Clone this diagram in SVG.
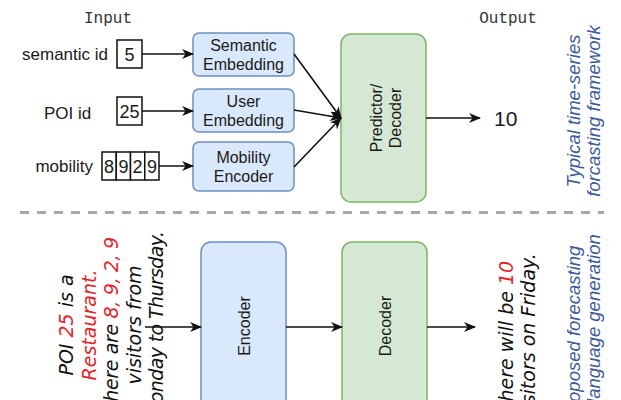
<svg xmlns="http://www.w3.org/2000/svg" width="621" height="400" viewBox="0 0 621 400">
<style>
.lbl{font-family:"Liberation Sans",Arial,sans-serif;fill:#1a1a1a}
.mono{font-family:"Liberation Mono","Courier New",monospace;font-size:16px;fill:#333;text-anchor:middle}
.blue{fill:#dae8fc;stroke:#6c8ebf;stroke-width:1.5}
.green{fill:#d5e8d4;stroke:#82b366;stroke-width:1.5}
.cell{fill:#fff;stroke:#111;stroke-width:1.5}
.conn{stroke:#111;stroke-width:1.6;fill:none;marker-end:url(#ah)}
.hand{font-family:"DejaVu Sans",sans-serif;font-style:italic;font-size:19px;fill:#111;text-anchor:middle}
.red{fill:#e3242b}
.cap{font-family:"Liberation Sans",Arial,sans-serif;font-style:italic;font-size:18.5px;fill:#3c5a9a;text-anchor:middle}
.mid{text-anchor:middle}
</style>
<defs>
<marker id="ah" markerUnits="userSpaceOnUse" markerWidth="12" markerHeight="10" viewBox="0 0 12 10" refX="11" refY="5" orient="auto">
<path d="M0,0 L12,5 L0,10 L3.5,5 Z" fill="#111"/>
</marker>
</defs>

<text class="mono" x="108" y="23">Input</text>
<text class="mono" x="508" y="23">Output</text>

<g id="in-semantic">
<text class="lbl" x="108" y="60" font-size="17" text-anchor="end">semantic id</text>
<rect class="cell" x="117" y="40" width="25" height="28"/>
<text class="lbl mid" x="129.5" y="60.5" font-size="18">5</text>
</g>
<g id="in-poi">
<text class="lbl" x="44" y="119" font-size="17">POI id</text>
<rect class="cell" x="117" y="97" width="25" height="28"/>
<text class="lbl mid" x="129.5" y="117.5" font-size="18">25</text>
</g>
<g id="in-mobility">
<text class="lbl" x="93" y="172" font-size="17" text-anchor="end">mobility</text>
<rect class="cell" x="102" y="152" width="14.25" height="28"/>
<rect class="cell" x="116.25" y="152" width="14.25" height="28"/>
<rect class="cell" x="130.5" y="152" width="14.25" height="28"/>
<rect class="cell" x="144.75" y="152" width="14.25" height="28"/>
<text class="lbl mid" x="109.1" y="172.5" font-size="18">8</text>
<text class="lbl mid" x="123.4" y="172.5" font-size="18">9</text>
<text class="lbl mid" x="137.6" y="172.5" font-size="18">2</text>
<text class="lbl mid" x="151.9" y="172.5" font-size="18">9</text>
</g>

<g id="semantic-embedding">
<rect class="blue" x="193" y="33" width="101" height="43" rx="6"/>
<text class="lbl mid" x="243.5" y="51" font-size="16">Semantic</text>
<text class="lbl mid" x="243.5" y="70" font-size="16">Embedding</text>
</g>
<g id="user-embedding">
<rect class="blue" x="193" y="89" width="101" height="43" rx="6"/>
<text class="lbl mid" x="243.5" y="107" font-size="16">User</text>
<text class="lbl mid" x="243.5" y="126" font-size="16">Embedding</text>
</g>
<g id="mobility-encoder">
<rect class="blue" x="193" y="142" width="101" height="49" rx="6"/>
<text class="lbl mid" x="243.5" y="163" font-size="16">Mobility</text>
<text class="lbl mid" x="243.5" y="182" font-size="16">Encoder</text>
</g>
<g id="predictor-decoder">
<rect class="green" x="341" y="34" width="85" height="168" rx="10"/>
<g transform="translate(0,118) rotate(-90)">
<text class="lbl mid" x="0" y="381.5" font-size="16">Predictor/</text>
<text class="lbl mid" x="0" y="401" font-size="16">Decoder</text>
</g>
</g>
<g id="out-top">
<text class="lbl" x="494" y="126" font-size="21">10</text>
</g>
<g id="caption-top" transform="translate(0,111) rotate(-90)">
<text class="cap" x="0" y="580">Typical time-series</text>
<text class="cap" x="0" y="600">forcasting framework</text>
</g>

<line x1="20" y1="212.5" x2="604" y2="212.5" stroke="#a8a8a8" stroke-width="3" stroke-dasharray="9 8"/>

<g id="in-text" transform="translate(0,325) rotate(-90)">
<text class="hand" x="0" y="73">POI <tspan class="red">25</tspan> is a</text>
<text class="hand" x="0" y="95.5"><tspan class="red">Restaurant.</tspan></text>
<text class="hand" x="0" y="118" textLength="176" lengthAdjust="spacing">There are <tspan class="red">8, 9, 2, 9</tspan></text>
<text class="hand" x="0" y="140.5">visitors from</text>
<text class="hand" x="0" y="163" textLength="188" lengthAdjust="spacing">Monday to Thursday.</text>
</g>
<g id="encoder">
<rect class="blue" x="201" y="242" width="85" height="200" rx="10"/>
<text class="lbl mid" transform="translate(250,326) rotate(-90)" x="0" y="0" font-size="16">Encoder</text>
</g>
<g id="decoder">
<rect class="green" x="342" y="242" width="85" height="200" rx="10"/>
<text class="lbl mid" transform="translate(391,326) rotate(-90)" x="0" y="0" font-size="16">Decoder</text>
</g>
<g id="out-text" transform="translate(0,337) rotate(-90)">
<text class="hand" x="0" y="513">There will be <tspan class="red">10</tspan></text>
<text class="hand" x="0" y="535">visitors on Friday.</text>
</g>
<g id="caption-bottom" transform="translate(0,333) rotate(-90)">
<text class="cap" x="0" y="580">Proposed forecasting</text>
<text class="cap" x="0" y="600">via language generation</text>
</g>

<g id="connectors">
<line class="conn" x1="142" y1="54" x2="193" y2="54"/>
<line class="conn" x1="142" y1="111" x2="193" y2="111"/>
<line class="conn" x1="159" y1="166" x2="193" y2="166"/>
<line class="conn" x1="294" y1="54" x2="341" y2="118"/>
<line class="conn" x1="294" y1="110" x2="341" y2="118"/>
<line class="conn" x1="294" y1="167" x2="341" y2="118"/>
<line class="conn" x1="426" y1="118" x2="480" y2="118"/>
<line class="conn" x1="145" y1="327" x2="201" y2="327"/>
<line class="conn" x1="286" y1="327" x2="342" y2="327"/>
<line class="conn" x1="427" y1="327" x2="475" y2="327"/>
</g>
</svg>
